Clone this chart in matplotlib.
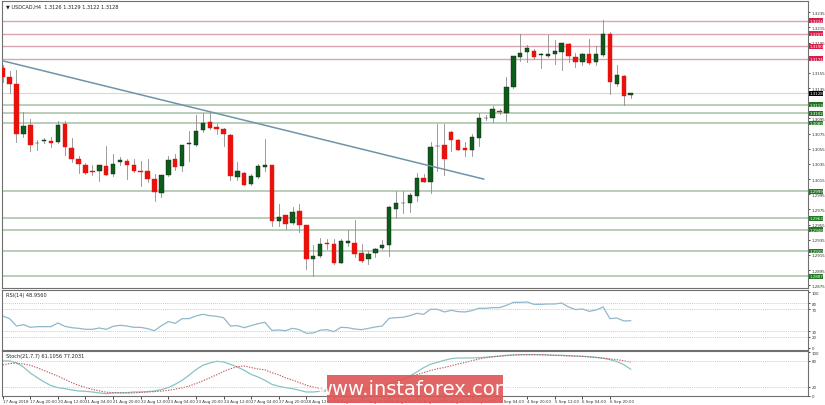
import matplotlib
matplotlib.use("Agg")
import matplotlib.pyplot as plt
import matplotlib.transforms as mtransforms
from matplotlib.patches import Rectangle
import numpy as np

opens = [1.3162,1.3150,1.3141,1.3074,1.3086,1.3062,1.3065,1.3065,1.3064,1.3088,1.3056,1.3042,1.3034,1.3025,1.3025,1.3032,1.3022,1.3037,1.3039,1.3033,
 1.3025,1.3025,1.3015,1.2997,1.3020,1.3042,1.3032,1.3061,1.3060,1.3080,1.3090,1.3084,1.3081,1.3073,1.3018,1.3023,1.3008,1.3018,1.3031,1.3034,
 1.2960,1.2967,1.2957,1.2973,1.2955,1.2909,1.2914,1.2931,1.2929,1.2904,1.2931,1.2931,1.2917,1.2909,1.2917,1.2924,1.2928,1.2976,1.2983,1.2983,
 1.2993,1.3017,1.3011,1.3058,1.3060,1.3077,1.3067,1.3056,1.3054,1.3069,1.3095,1.3095,1.3105,1.3102,1.3137,1.3176,1.3183,1.3184,1.3179,1.3178,
 1.3180,1.3183,1.3193,1.3176,1.3170,1.3180,1.3169,1.3179,1.3207,1.3141,1.3151,1.3126]
highs = [1.3165,1.3157,1.3159,1.3104,1.3094,1.3066,1.3069,1.3070,1.3092,1.3092,1.3069,1.3046,1.3036,1.3034,1.3034,1.3058,1.3048,1.3044,1.3041,1.3041,
 1.3039,1.3041,1.3022,1.3021,1.3046,1.3048,1.3060,1.3079,1.3099,1.3102,1.3103,1.3088,1.3082,1.3074,1.3038,1.3024,1.3022,1.3035,1.3068,1.3034,
 1.2982,1.2968,1.2978,1.2982,1.2955,1.2928,1.2937,1.2936,1.2936,1.2936,1.2948,1.2961,1.2929,1.2920,1.2924,1.2934,1.2980,1.2999,1.2999,1.2997,
 1.3023,1.3022,1.3064,1.3088,1.3088,1.3079,1.3068,1.3064,1.3075,1.3102,1.3099,1.3111,1.3108,1.3149,1.3178,1.3207,1.3192,1.3186,1.3181,1.3205,
 1.3199,1.3195,1.3195,1.3181,1.3181,1.3200,1.3191,1.3225,1.3209,1.3165,1.3152,1.3129]
lows = [1.3143,1.3129,1.3064,1.3071,1.3052,1.3054,1.3062,1.3057,1.3063,1.3047,1.3038,1.3023,1.3022,1.3020,1.3013,1.3021,1.3019,1.3034,1.3015,1.3024,
 1.3006,1.3011,1.2986,1.2992,1.3019,1.3027,1.3026,1.3039,1.3059,1.3077,1.3081,1.3074,1.3058,1.3014,1.3014,1.3007,1.3007,1.3017,1.3025,1.2953,
 1.2953,1.2949,1.2956,1.2945,1.2896,1.2887,1.2912,1.2923,1.2903,1.2904,1.2927,1.2912,1.2905,1.2903,1.2912,1.2923,1.2914,1.2964,1.2970,1.2971,
 1.2986,1.3011,1.2997,1.3025,1.3020,1.3052,1.3054,1.3045,1.3046,1.3059,1.3093,1.3090,1.3101,1.3092,1.3135,1.3171,1.3170,1.3173,1.3162,1.3176,
 1.3167,1.3159,1.3169,1.3163,1.3165,1.3167,1.3165,1.3177,1.3127,1.3138,1.3113,1.3122]
closes = [1.3149,1.3141,1.3075,1.3085,1.3060,1.3063,1.3067,1.3063,1.3086,1.3057,1.3041,1.3035,1.3023,1.3024,1.3033,1.3021,1.3035,1.3040,1.3033,1.3025,
 1.3024,1.3015,1.2998,1.3021,1.3040,1.3031,1.3060,1.3062,1.3079,1.3089,1.3083,1.3081,1.3074,1.3019,1.3026,1.3007,1.3019,1.3032,1.3034,1.2960,
 1.2965,1.2956,1.2972,1.2954,1.2910,1.2914,1.2930,1.2929,1.2904,1.2933,1.2933,1.2916,1.2907,1.2916,1.2923,1.2928,1.2978,1.2983,1.2983,1.2994,
 1.3016,1.3011,1.3057,1.3059,1.3042,1.3066,1.3054,1.3054,1.3070,1.3096,1.3096,1.3107,1.3103,1.3137,1.3177,1.3181,1.3188,1.3176,1.3179,1.3180,
 1.3184,1.3195,1.3177,1.3169,1.3180,1.3168,1.3180,1.3207,1.3143,1.3152,1.3125,1.3128]

rsi = [57.5,52.7,39.5,41.9,37.1,38.3,38.3,38.3,44.9,38.9,36.5,35.3,33.5,33.5,35.9,33.5,38.9,40.7,39.5,37.1,
 37.1,34.7,31.1,40.1,47.3,44.3,52.7,52.7,57.5,60.5,58.1,56.9,54.5,39.5,40.1,36.5,40.1,43.7,46.1,31.7,
 32.3,31.1,35.3,32.9,26.3,26.9,32.0,32.9,29.3,37.1,36.5,34.1,32.9,35.3,37.7,39.5,53.3,54.5,55.1,58.1,
 62.3,60.5,69.5,69.5,64.7,67.7,65.3,64.7,67.1,71.3,71.3,72.5,72.5,76.6,82.0,82.0,82.6,78.4,78.4,79.0,
 79.0,80.8,73.7,68.9,70.1,65.9,68.3,73.7,52.7,53.9,48.5,48.956]
stoch_k = [80,80,75.4,66.2,52.3,41.6,31.6,23.1,18.5,16.2,13.1,10.8,10,8.5,6.2,4.6,6.2,6.9,6.9,8.5,
 8.5,9.2,10.8,13.9,18.5,26.2,35.4,46.9,60,70,75.4,79.2,77.7,72.3,66.2,58.5,49.2,43.1,35.4,26.2,
 21.6,18.5,16.2,12.3,8.5,8.5,10,10.8,10.8,10,10.8,11.6,13.1,15.4,18.5,21.6,26.2,31.6,37.7,45.4,
 54.6,64.6,72.3,76.9,81.5,85.4,86.9,86.9,86.9,87.7,88.5,90,91.5,93.1,93.8,94.6,94.6,94.6,94.6,93.8,
 93.1,93.1,92.3,91.5,90.8,90,88.5,86.2,83.1,78.5,71.5,61.1056]
stoch_d = [71,74,75,73,70,64.5,58,51.5,45,37.5,30,24,19,14.5,11,8,7,6.2,6.2,6.2,
 7.5,8.5,9.3,10.4,12.3,15,18,22,28,34,41,48,56,62,67,68.5,65,61.5,59.5,53,
 48,41,36,30,24,20,16.2,12.3,11.5,10.8,11.5,12.3,14.5,16.5,19.5,22.5,28,33.5,38.5,44,
 48.5,53,58,62,65,69,73,76.5,80.5,84.5,87.5,89.5,90.8,92.3,93.8,94.2,94.6,94.6,94.2,93.8,
 93.1,92.3,91.5,91.1,90.5,89,88,86.5,85,83,80.5,77.2031]

res_levels = [1.3224,1.3207,1.3190,1.3174]
sup_levels = [1.3113,1.3102,1.3089,1.2999,1.2963,1.2948,1.2920,1.2887]
trend_idx = [0, 69.7]
trend_px = [1.3171, 1.3015]
price_ticks = [1.3235,1.3215,1.3195,1.3155,1.3135,1.3095,1.3075,1.3055,1.3035,1.3015,1.2995,1.2975,1.2955,1.2935,1.2915,1.2895,1.2875]
date_labels = ["17 Aug 2018","17 Aug 20:00","20 Aug 12:00","21 Aug 04:00","21 Aug 20:00","22 Aug 12:00","23 Aug 04:00","23 Aug 20:00",
 "24 Aug 12:00","27 Aug 04:00","27 Aug 20:00","28 Aug 12:00","29 Aug 04:00","29 Aug 20:00","30 Aug 12:00","31 Aug 04:00",
 "31 Aug 20:00","3 Sep 12:00","4 Sep 04:00","4 Sep 20:00","5 Sep 12:00","6 Sep 04:00","6 Sep 20:00"]

W, H = 825, 406
fig = plt.figure(figsize=(W/100, H/100), dpi=100)
def axrect(l, t, r, b):
    return [l/W, 1-b/H, (r-l)/W, (b-t)/H]
ax = fig.add_axes(axrect(2, 2, 808, 288.7))
ax_r = fig.add_axes(axrect(2, 290.7, 808, 350.7))
ax_s = fig.add_axes(axrect(2, 352, 808, 397))
xl = (-0.1, 116.7)
n = len(opens)
x = np.arange(n)
fs = 3.6
fr = 2.9

for i in range(n):
    o, h, l, c = opens[i], highs[i], lows[i], closes[i]
    bull = c >= o
    ax.plot([i, i], [l, h], color="#8c8c8c", lw=0.6, zorder=2)
    bot = min(o, c); hgt = max(abs(c - o), 0.00006)
    col = "#0b5d1a" if bull else "#e8120c"
    ax.add_patch(Rectangle((i-0.32, bot), 0.64, hgt, facecolor=col, edgecolor="#1a1a1a" if bull else col, lw=0.3, zorder=3))

tr = mtransforms.blended_transform_factory(ax.transAxes, ax.transData)
def lab(lv, fc):
    ax.text(1.0015, lv, f"{lv:.4f}", transform=tr, fontsize=fr, color="white", va="center", ha="left",
            bbox=dict(boxstyle="square,pad=0.1", fc=fc, ec="none"), zorder=10, clip_on=False)
for lv in res_levels:
    ax.axhline(lv, color="#d9a5b0", lw=1.0, zorder=1)
    lab(lv, "#d81e4a")
for lv in sup_levels:
    ax.axhline(lv, color="#b3c9b3", lw=1.3, zorder=1)
    lab(lv, "#1f7a1f")
ax.axhline(closes[-1], color="#d8d8d8", lw=0.8, zorder=1)
lab(closes[-1], "black")
ax.plot(trend_idx, trend_px, color="#6f94a8", lw=1.1, zorder=4)

ax.set_xlim(*xl); ax.set_ylim(1.28717, 1.32499)
ax.yaxis.tick_right()
ax.set_yticks(price_ticks)
ax.set_yticklabels([f"{t:.4f}" for t in price_ticks], fontsize=fr, color="#333333")
ax.tick_params(axis="y", length=1.5, width=0.5, pad=1)
ax.set_xticks([])
ax.text(0.005, 0.99, "▼ USDCAD,H4  1.3126 1.3129 1.3122 1.3128", transform=ax.transAxes, fontsize=fs, va="top", ha="left", color="#222222")

# RSI
ax_r.plot(x, rsi, color="#8fb8cc", lw=0.9)
for lv in [80, 70, 30, 20]:
    ax_r.axhline(lv, color="#bbbbbb", lw=0.5, ls=(0, (1.5, 1.5)))
ax_r.set_xlim(*xl); ax_r.set_ylim(-3.1, 104.7)
ax_r.yaxis.tick_right(); ax_r.set_yticks([100, 80, 70, 30, 20, 0])
ax_r.set_yticklabels(["100", "80", "70", "30", "20", "0"], fontsize=fr, color="#333333")
ax_r.tick_params(axis="y", length=1.5, width=0.5, pad=1)
ax_r.set_xticks([])
ax_r.text(0.005, 0.96, "RSI(14) 48.9560", transform=ax_r.transAxes, fontsize=fs, va="top", ha="left", color="#222222")

# Stoch
ax_s.plot(x, stoch_k, color="#88c4c4", lw=0.9)
ax_s.plot(x, stoch_d, color="#c45a5a", lw=0.8, ls=(0, (1.2, 1.2)))
for lv in [80, 20]:
    ax_s.axhline(lv, color="#bbbbbb", lw=0.5, ls=(0, (1.5, 1.5)))
ax_s.set_xlim(*xl); ax_s.set_ylim(-0.8, 103)
ax_s.yaxis.tick_right(); ax_s.set_yticks([100, 80, 20, 0])
ax_s.set_yticklabels(["100", "80", "20", "0"], fontsize=fr, color="#333333")
ax_s.tick_params(axis="y", length=1.5, width=0.5, pad=1)
ax_s.text(0.005, 0.96, "Stoch(21,7,7) 61.1056 77.2031", transform=ax_s.transAxes, fontsize=fs, va="top", ha="left", color="#222222")
tick_pos = [4*k for k in range(len(date_labels))]
ax_s.set_xticks(tick_pos)
ax_s.set_xticklabels(date_labels, fontsize=fr, ha="left", color="#333333")
ax_s.tick_params(axis="x", length=2, width=0.5, pad=0.5)

for a in (ax, ax_r, ax_s):
    for s in a.spines.values():
        s.set_color("#707070"); s.set_linewidth(0.8)

# watermark
fig.patches.append(Rectangle((327/W, 1-404/H), 176/W, 28/H, transform=fig.transFigure,
                             facecolor="#e05858", edgecolor="none", alpha=0.92, zorder=20))
fig.text(415/W, 1-390/H, "www.instaforex.com", fontsize=14, color="white", ha="center", va="center", zorder=21,
         family="DejaVu Sans")

fig.savefig("out.png", dpi=100)
